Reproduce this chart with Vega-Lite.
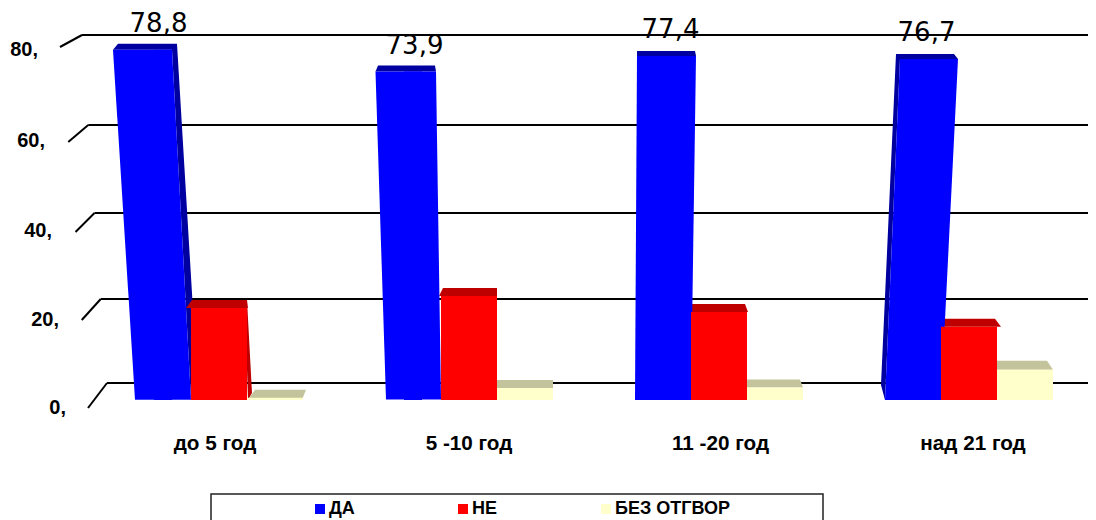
{
"$schema":"https://vega.github.io/schema/vega-lite/v6.json",
"width":1000,"height":400,
"autosize":{"type":"none"},
"padding":{"left":94,"top":0,"right":2,"bottom":120},
"background":"white",
"config":{"view":{"stroke":null},"font":"Liberation Sans"},
"datasets":{
"bars":[
{"group":"до 5 год","series":"ДА","value":78.8},
{"group":"до 5 год","series":"НЕ","value":20.7},
{"group":"до 5 год","series":"БЕЗ ОТГВОР","value":0.5},
{"group":"5 -10 год","series":"ДА","value":73.9},
{"group":"5 -10 год","series":"НЕ","value":23.4},
{"group":"5 -10 год","series":"БЕЗ ОТГВОР","value":2.7},
{"group":"11 -20 год","series":"ДА","value":77.4},
{"group":"11 -20 год","series":"НЕ","value":19.8},
{"group":"11 -20 год","series":"БЕЗ ОТГВОР","value":2.8},
{"group":"над 21 год","series":"ДА","value":76.7},
{"group":"над 21 год","series":"НЕ","value":16.5},
{"group":"над 21 год","series":"БЕЗ ОТГВОР","value":6.8}
],
"ticks":[{"tick":0,"label":"0,"},{"tick":20,"label":"20,"},{"tick":40,"label":"40,"},{"tick":60,"label":"60,"},{"tick":80,"label":"80,"}],
"frame":[{"name":"legend frame"}]
},
"resolve":{"scale":{"x":"independent","y":"independent","xOffset":"independent","shape":"independent"}},
"layer":[
{"data":{"name":"frame"},"mark":{"type":"rect","fillOpacity":0,"stroke":"#222222","strokeWidth":1.5},
 "encoding":{"x":{"value":117},"x2":{"value":729},"y":{"value":494},"y2":{"value":540}}},
{"data":{"name":"ticks"},"mark":{"type":"rule","stroke":"black","strokeWidth":2.2},
 "encoding":{
  "x":{"field":"tick","type":"quantitative","scale":{"domain":[0,80],"range":[13,-12]},"axis":null},
  "x2":{"value":994},
  "y":{"field":"tick","type":"quantitative","scale":{"domain":[0,20,40,60,80],"range":[383,299,213,125,35]},"axis":null}}},
{"data":{"name":"ticks"},"mark":{"type":"point","size":4,"filled":false,"stroke":"black","strokeWidth":2,"opacity":1},
 "encoding":{
  "x":{"field":"tick","type":"quantitative","scale":{"domain":[0,80],"range":[13,-12]},"axis":null},
  "y":{"field":"tick","type":"quantitative","scale":{"domain":[0,20,40,60,80],"range":[383,299,213,125,35]},"axis":null},
  "shape":{"field":"tick","type":"nominal","legend":null,"scale":{"domain":[0,20,40,60,80],"range":["M0,0 L-19,25","M0,0 L-19,21","M0,0 L-19,19","M0,0 L-20,17","M0,0 L-22,12"]}}}},
{"data":{"name":"ticks"},"mark":{"type":"text","fontSize":20,"fontWeight":"bold","align":"right","baseline":"middle","color":"black"},
 "encoding":{
  "x":{"field":"tick","type":"quantitative","scale":{"domain":[0,80],"range":[-28,-56]},"axis":null},
  "y":{"field":"tick","type":"quantitative","scale":{"domain":[0,20,40,60,80],"range":[408,320,231,141,50]},"axis":null},
  "text":{"field":"label"}}},
{"data":{"name":"bars"},"transform":[{"filter":"datum.series==='ДА'"}],
 "mark":{"type":"point","filled":true,"size":4,"opacity":1,"fill":"#0000a0","stroke":null},
 "encoding":{
  "x":{"field":"group","type":"nominal","axis":null,"scale":{"type":"band","domain":["до 5 год","5 -10 год","11 -20 год","над 21 год"],"paddingInner":0,"paddingOuter":0}},
  "xOffset":{"field":"series","type":"nominal","scale":{"type":"band","domain":["ДА","НЕ","БЕЗ ОТГВОР"],"paddingInner":0,"paddingOuter":0.732}},
  "y":{"field":"value","type":"quantitative","axis":null,"scale":{"domain":[0,90]}},
  "shape":{"field":"group","type":"nominal","legend":null,"scale":{"domain":["до 5 год","5 -10 год","11 -20 год","над 21 год"],"range":["M-50,0 L-45,-6 L14,-6 L9,0 Z M9,0 L14,-6 L30,260 L28,350 Z","M-37.5,0 L-35,-6 L22,-6 L23,0 Z","M-26,0 L-26,-5 L32,-5 L33,0 Z","M-13,0 L-17,-5 L41,-5 L45,0 Z M-13,0 L-17,-5 L-32,326 L-28,341 Z"]}}}},
{"data":{"name":"bars"},"transform":[{"filter":"datum.series==='НЕ'"}],
 "mark":{"type":"point","filled":true,"size":4,"opacity":1,"fill":"#bf0000","stroke":null},
 "encoding":{
  "x":{"field":"group","type":"nominal","axis":null,"scale":{"type":"band","domain":["до 5 год","5 -10 год","11 -20 год","над 21 год"],"paddingInner":0,"paddingOuter":0}},
  "xOffset":{"field":"series","type":"nominal","scale":{"type":"band","domain":["ДА","НЕ","БЕЗ ОТГВОР"],"paddingInner":0,"paddingOuter":0.732}},
  "y":{"field":"value","type":"quantitative","axis":null,"scale":{"domain":[0,90]}},
  "shape":{"field":"group","type":"nominal","legend":null,"scale":{"domain":["до 5 год","5 -10 год","11 -20 год","над 21 год"],"range":["M-33,0 L-27,-8 L28,-8 L29,0 Z M26,0 L28,-8 L33,85 L29,92 Z","M-30,0 L-26,-8 L28,-8 L28,0 Z","M-28,0 L-27,-8 L26,-8 L29,0 Z","M-28,0 L-24,-8 L26,-8 L32,0 Z"]}}}},
{"data":{"name":"bars"},"transform":[{"filter":"datum.series==='БЕЗ ОТГВОР'"}],
 "mark":{"type":"point","filled":true,"size":4,"opacity":1,"fill":"#c4c49c","stroke":null},
 "encoding":{
  "x":{"field":"group","type":"nominal","axis":null,"scale":{"type":"band","domain":["до 5 год","5 -10 год","11 -20 год","над 21 год"],"paddingInner":0,"paddingOuter":0}},
  "xOffset":{"field":"series","type":"nominal","scale":{"type":"band","domain":["ДА","НЕ","БЕЗ ОТГВОР"],"paddingInner":0,"paddingOuter":0.732}},
  "y":{"field":"value","type":"quantitative","axis":null,"scale":{"domain":[0,90]}},
  "shape":{"field":"group","type":"nominal","legend":null,"scale":{"domain":["до 5 год","5 -10 год","11 -20 год","над 21 год"],"range":["M-27,2 L-20,-8 L31,-8 L27,2 Z","M-28,0 L-28,-8 L28,-8 L28,0 Z","M-28,0 L-28,-8 L25,-8 L28,0 Z","M-28,0 L-28,-9 L22,-9 L28,0 Z"]}}}},
{"data":{"name":"bars"},"transform":[{"filter":"datum.series==='ДА'"}],
 "mark":{"type":"bar","width":18},
 "encoding":{
  "x":{"field":"group","type":"nominal","axis":null,"scale":{"type":"band","domain":["до 5 год","5 -10 год","11 -20 год","над 21 год"],"paddingInner":0,"paddingOuter":0}},
  "xOffset":{"field":"series","type":"nominal","scale":{"type":"band","domain":["ДА","НЕ","БЕЗ ОТГВОР"],"paddingInner":0,"paddingOuter":0.732}},
  "y":{"field":"value","type":"quantitative","axis":null,"scale":{"domain":[0,90]}},
  "color":{"field":"series","type":"nominal","title":null,"scale":{"domain":["ДА","НЕ","БЕЗ ОТГВОР"],"range":["#0000ff","#ff0000","#ffffcc"]},
   "legend":{"orient":"none","legendX":217,"legendY":500,"direction":"horizontal","columnPadding":99,"symbolType":"square","symbolSize":100,"labelFontSize":18,"labelFontWeight":"bold","labelColor":"black","labelFont":"Liberation Sans","labelOffset":0}}}},
{"data":{"name":"bars"},"transform":[{"filter":"datum.series==='ДА'"}],
 "mark":{"type":"point","filled":true,"size":4,"opacity":1,"fill":"#0000ff","stroke":null},
 "encoding":{
  "x":{"field":"group","type":"nominal","axis":null,"scale":{"type":"band","domain":["до 5 год","5 -10 год","11 -20 год","над 21 год"],"paddingInner":0,"paddingOuter":0}},
  "xOffset":{"field":"series","type":"nominal","scale":{"type":"band","domain":["ДА","НЕ","БЕЗ ОТГВОР"],"paddingInner":0,"paddingOuter":0.732}},
  "y":{"field":"value","type":"quantitative","axis":null,"scale":{"domain":[0,90]}},
  "shape":{"field":"group","type":"nominal","legend":null,"scale":{"domain":["до 5 год","5 -10 год","11 -20 год","над 21 год"],"range":["M-50,0 L9,0 L28,350 L-28,350 Z","M-37.5,0 L23,0 L28,328 L-27,328 Z","M-26,0 L33,0 L28,344 L-28,344 Z","M-13,0 L45,0 L28,341 L-28,341 Z"]}}}},
{"data":{"name":"bars"},"transform":[{"filter":"datum.series!=='ДА'"}],
 "mark":{"type":"bar"},
 "encoding":{
  "x":{"field":"group","type":"nominal","title":null,"scale":{"type":"band","domain":["до 5 год","5 -10 год","11 -20 год","над 21 год"],"paddingInner":0,"paddingOuter":0},
   "axis":{"domain":false,"ticks":false,"labelAngle":0,"labelFontSize":20.7,"labelFontWeight":"bold","labelColor":"black","labelPadding":33,"labelFont":"Liberation Sans","labelOffset":{"expr":"datum.value==='до 5 год'?-4:datum.value==='над 21 год'?4:datum.value==='5 -10 год'?0:1.5"}}},
  "xOffset":{"field":"series","type":"nominal","scale":{"type":"band","domain":["ДА","НЕ","БЕЗ ОТГВОР"],"paddingInner":0,"paddingOuter":0.732}},
  "y":{"field":"value","type":"quantitative","axis":null,"scale":{"domain":[0,90]}},
  "color":{"field":"series","type":"nominal","title":null,"scale":{"domain":["ДА","НЕ","БЕЗ ОТГВОР"],"range":["#0000ff","#ff0000","#ffffcc"]}}}},
{"data":{"name":"bars"},"transform":[{"filter":"datum.series==='ДА'"},{"calculate":"replace(format(datum.value,'.1f'),'.',',')","as":"label"}],
 "mark":{"type":"text","fontSize":26,"baseline":"middle","dy":-26,"color":"black","font":"DejaVu Sans"},
 "encoding":{
  "x":{"field":"group","type":"nominal","axis":null,"scale":{"type":"band","domain":["до 5 год","5 -10 год","11 -20 год","над 21 год"],"range":[-63.5,960.5],"paddingInner":0,"paddingOuter":0}},
  "y":{"field":"value","type":"quantitative","axis":null,"scale":{"domain":[0,90]}},
  "text":{"field":"label"}}}
]}
